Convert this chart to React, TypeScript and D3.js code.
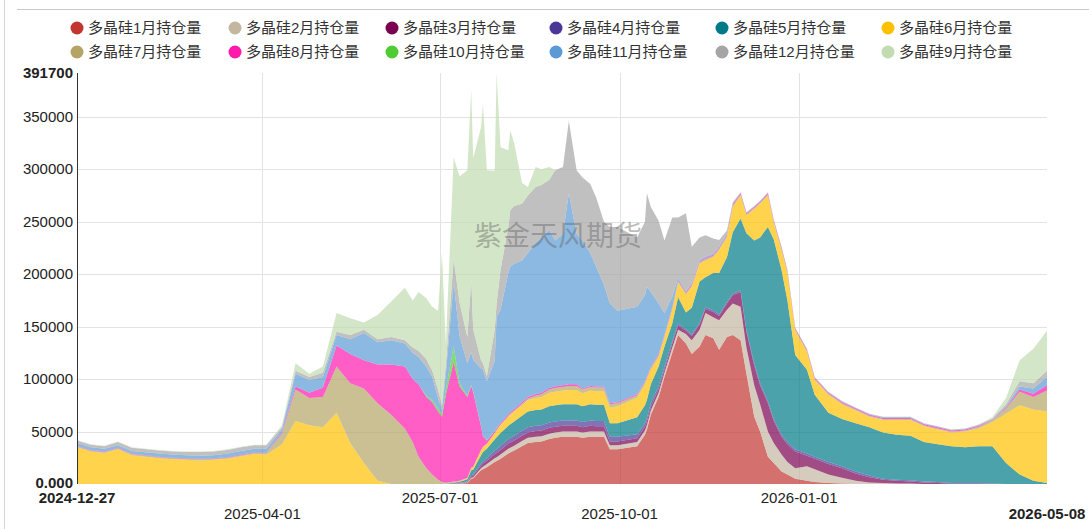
import React from "react";
import * as d3 from "d3";

const dates = [
  "2024-12-27","2025-01-03","2025-01-10","2025-01-17","2025-01-24","2025-02-07","2025-02-14","2025-02-21","2025-02-28","2025-03-07",
  "2025-03-14","2025-03-21","2025-03-28","2025-04-03","2025-04-11","2025-04-18","2025-04-25","2025-05-02","2025-05-09","2025-05-16",
  "2025-05-23","2025-05-30","2025-06-06","2025-06-13","2025-06-17","2025-06-20","2025-06-24","2025-06-27","2025-06-30","2025-07-02",
  "2025-07-04","2025-07-08","2025-07-11","2025-07-15","2025-07-17","2025-07-18","2025-07-22","2025-07-23","2025-07-25","2025-07-29",
  "2025-07-30","2025-08-01","2025-08-05","2025-08-06","2025-08-08","2025-08-12","2025-08-15","2025-08-19","2025-08-22","2025-08-26",
  "2025-08-29","2025-09-02","2025-09-05","2025-09-09","2025-09-12","2025-09-16","2025-09-19","2025-09-23","2025-09-26","2025-09-30",
  "2025-10-10","2025-10-14","2025-10-15","2025-10-17","2025-10-21","2025-10-24","2025-10-28","2025-10-31","2025-11-04","2025-11-07",
  "2025-11-11","2025-11-14","2025-11-18","2025-11-21","2025-11-25","2025-11-28","2025-12-02","2025-12-05","2025-12-09","2025-12-12",
  "2025-12-16","2025-12-19","2025-12-23","2025-12-26","2025-12-30","2026-01-05","2026-01-09","2026-01-16","2026-01-23","2026-01-30",
  "2026-02-06","2026-02-13","2026-02-20","2026-02-27","2026-03-06","2026-03-13","2026-03-20","2026-03-27","2026-04-03","2026-04-10",
  "2026-04-17","2026-04-24","2026-05-01","2026-05-08",
];

const jan = [
  0,0,0,0,0,0,0,0,0,0,
  0,0,0,0,0,0,0,0,0,0,
  0,0,0,0,0,0,0,0,0,0,
  0,500,500,1000,5000,5500,13000,14000,16000,21000,
  22000,24000,29000,30000,32000,36000,39000,40000,40500,43000,
  44000,45000,45000,45000,44000,45000,45000,45000,33000,33000,
  36000,47000,52000,66000,83000,102000,125000,142000,134000,124000,
  131000,142000,139000,128000,140000,142000,137000,105000,64000,50000,
  26000,20000,12000,9000,5000,3000,2000,1000,500,0,
  0,0,0,0,0,0,0,0,0,0,
  0,0,0,0,
];
const feb = [
  0,0,0,0,0,0,0,0,0,0,
  0,0,0,0,0,0,0,0,0,0,
  0,0,0,0,0,0,0,0,0,0,
  0,0,200,500,1000,1000,2000,2500,3000,3500,
  3500,4000,4500,4500,4500,5000,5000,5000,5000,5000,
  5000,5000,5000,5000,5000,5000,5000,5000,4000,4000,
  4000,4000,4000,4000,4000,4000,5000,5000,9000,13000,
  16000,21000,20000,28000,26000,30000,32000,25000,30000,26000,
  24000,19000,16000,12000,10000,14000,12000,8000,5500,3000,
  1500,1000,500,500,0,0,0,0,0,0,
  0,0,0,0,
];
const mar = [
  0,0,0,0,0,0,0,0,0,0,
  0,0,0,0,0,0,0,0,0,0,
  0,0,0,0,0,0,0,0,0,0,
  0,0,200,500,1500,1500,2500,3000,3000,4000,
  4000,4500,5000,5000,5000,5000,5000,5500,5500,5500,
  5500,5500,5500,5500,5000,5500,5000,5000,3500,3500,
  3500,3500,3500,3500,3500,3000,4000,4000,3000,4000,
  5000,4000,5000,4000,6000,8000,14000,15000,19000,18000,
  27000,21000,17000,17000,16000,10000,10000,10000,9000,7000,
  5000,3000,2500,2000,1500,1000,500,500,500,0,
  0,0,0,0,
];
const apr = [
  0,0,0,0,0,0,0,0,0,0,
  0,0,0,0,0,0,0,0,0,0,
  0,0,0,0,0,0,0,0,0,0,
  0,300,300,500,1000,1000,2000,2000,2500,3500,
  3500,4000,4500,4500,4500,5000,5000,5000,5000,5000,
  5000,5000,5000,5000,5000,5000,5000,5000,4500,4500,
  4000,3500,3500,3500,3000,3000,2000,2000,1500,1500,
  1500,1500,1500,1500,1500,1500,1500,1500,2000,2000,
  2000,2000,2000,2000,2000,2000,2000,2000,2000,2000,
  1500,1000,1000,1000,1000,1000,500,500,500,500,
  0,0,0,0,
];
const may = [
  0,0,0,0,0,0,0,0,0,0,
  0,0,0,0,0,0,0,0,0,0,
  0,0,0,0,0,0,0,0,0,0,
  300,500,1000,2000,4500,4500,8000,9000,9000,10500,
  11500,12000,12500,13000,13500,14000,15000,15000,15000,15500,
  15500,15500,15500,15500,15000,15500,15500,15500,13000,13000,
  16000,17000,17000,18000,18500,19000,17000,25000,16000,25500,
  39500,28500,35500,39500,42500,58500,68500,92500,117000,139000,
  166000,171000,157000,135000,90000,80000,59000,47000,45000,46000,
  46000,44000,43000,42500,37500,36000,35000,34000,35000,35500,
  20000,9000,3000,1000,
];
const jun = [
  35000,31000,29500,33000,27500,24500,23500,23000,22500,23000,
  24000,26500,28500,28000,38000,60000,56000,54000,68000,39000,
  20000,3000,0,0,0,0,0,0,0,0,
  0,0,300,1000,2000,2500,4500,4500,4500,5500,
  6500,7500,8500,9000,9500,10000,11000,11500,12000,13000,
  13000,13000,13500,13500,12500,13000,13000,13000,15000,16000,
  19000,20000,20000,14000,9000,9000,13000,14000,17000,20000,
  17000,16000,15000,22000,19000,24000,22000,17000,30000,32000,
  30000,16000,19000,26000,23000,17000,14000,17000,14000,12000,
  10000,12000,14000,15000,15000,14000,13000,15000,17000,23000,
  47000,66000,68000,68000,
];
const jul = [
  1000,1000,1000,1000,1000,1000,1000,1000,1000,1000,
  1000,1000,1000,1500,10000,30000,26000,29000,44000,57000,
  71000,74000,66000,53000,40000,26000,15000,9000,4000,2000,
  1000,1000,500,500,500,500,500,500,500,500,
  500,500,1000,1000,1000,1500,1500,2000,2500,3000,
  3500,3500,4000,4000,3500,3500,3500,3500,3000,3000,
  2000,2000,2000,2000,2000,1500,1500,1500,1500,1500,
  1500,1500,1500,1500,1500,1500,1000,1000,1000,1000,
  1000,1000,1000,1000,1000,1000,1000,1000,1000,1000,
  1000,1000,1000,1000,1000,1000,1000,1000,1500,2000,
  5000,13000,12000,20000,
];
const aug = [
  500,500,500,500,500,500,500,500,500,500,
  500,500,500,500,1000,3000,5000,9000,20000,28000,
  27000,37000,48000,59000,60000,69000,68000,69000,65000,62000,
  84000,114000,90000,77000,78000,71000,22500,10000,3000,1500,
  1500,1500,1500,1500,1500,1500,1500,1500,1500,1500,
  1500,1500,1500,1500,1000,1000,1000,1000,1000,1000,
  1000,1000,1000,1000,1000,1000,1000,1000,1000,1000,
  1000,1000,1000,1000,1000,1000,1000,1000,1000,1000,
  1000,1000,1000,1000,1000,1000,1000,1000,1000,1000,
  1000,1000,1000,1000,1000,1000,1000,1000,1000,500,
  1000,2000,3000,5000,
];
const oct = [
  0,0,0,0,0,0,0,0,0,0,
  0,0,0,0,0,0,0,0,0,0,
  0,0,0,0,0,0,1000,2000,3000,3000,
  5000,15000,3000,1000,1000,1000,500,500,500,500,
  500,0,0,0,0,0,0,0,0,0,
  0,0,0,0,0,0,0,0,0,0,
  0,0,0,0,0,0,0,0,0,0,
  0,0,0,0,0,0,0,0,0,0,
  0,0,0,0,0,0,0,0,0,0,
  0,0,0,0,0,0,0,0,0,0,
  0,0,0,0,
];
const nov = [
  2500,2500,2500,2500,2500,3000,3000,3000,3000,3000,
  3500,3500,3500,3500,3000,12000,12000,10000,10000,14000,
  26000,21000,23000,22000,25000,26000,28000,22000,10000,4000,
  15000,61000,45000,31000,31000,30000,54500,63000,56000,67000,
  105500,108000,134500,138500,138500,135000,137000,144500,148000,150500,
  139000,144000,182000,143000,141000,126500,114000,97000,95000,87000,
  83500,82000,85000,71000,48000,20500,10000,2000,1000,1000,
  1000,1000,1000,1000,1000,1000,500,500,500,500,
  500,500,500,500,500,500,500,500,500,500,
  500,500,500,500,500,500,500,500,500,500,
  1000,3000,5000,8000,
];
const dec = [
  2500,2500,2500,3000,3000,3000,3000,3000,3500,3500,
  3500,3500,3500,3500,2000,3000,3000,4000,3000,4000,
  3000,3000,3000,3000,5000,6000,7000,6000,8000,4000,
  8000,22000,32000,25000,69000,29000,8000,6000,5000,29000,
  13000,38000,44000,54000,55000,54000,55000,53000,50000,48000,
  67000,64000,69000,61000,60000,66000,66000,60000,73000,80000,
  66000,70000,89000,81000,79000,69000,75500,57500,74000,34500,
  21500,20500,14500,6000,3000,1000,500,500,500,500,
  500,500,500,500,500,500,500,500,500,500,
  500,500,500,500,500,500,500,500,500,500,
  2000,5000,5000,6000,
];
const sep = [
  500,500,500,500,500,500,500,500,500,500,
  500,500,500,500,2000,7000,3000,6000,18000,16000,
  7000,23000,34000,50000,45000,56000,58000,61000,75000,145000,
  20000,97000,120000,159000,181000,163000,222000,247000,196000,152000,
  219700,117000,73000,76000,60000,20000,8000,19000,15000,12000,
  0,0,0,0,0,0,0,0,0,0,
  0,0,0,0,0,0,0,0,0,0,
  0,0,0,0,0,0,0,0,0,0,
  0,0,0,0,0,0,0,0,0,0,
  0,0,0,0,0,0,0,0,500,1000,
  6000,20000,33000,38000,
];

// stack order (bottom to top) = legend order
const seriesNames = [
  "多晶硅1月持仓量","多晶硅2月持仓量","多晶硅3月持仓量","多晶硅4月持仓量","多晶硅5月持仓量","多晶硅6月持仓量",
  "多晶硅7月持仓量","多晶硅8月持仓量","多晶硅10月持仓量","多晶硅11月持仓量","多晶硅12月持仓量","多晶硅9月持仓量",
];
const seriesValues = [jan, feb, mar, apr, may, jun, jul, aug, oct, nov, dec, sep];
const seriesColors = [
  "#c23531","#c4b7a2","#7b0051","#4b3797","#007a87","#ffc000",
  "#b4a567","#ff1aae","#4fcc34","#5b9bd5","#a5a5a5","#c2dbb1",
];

const yTicks = [0, 50000, 100000, 150000, 200000, 250000, 300000, 350000, 391700];
const xTickLabels = ["2024-12-27","2025-04-01","2025-07-01","2025-10-01","2026-01-01","2026-05-08"];
const yMax = 391700;

const W = 1089, H = 529;
const plot = { left: 77, right: 1047, top: 73, bottom: 484 };

export default function App() {
  const parse = d3.timeParse("%Y-%m-%d");
  const keys = seriesNames.map((_, i) => "k" + i);
  const rows = dates.map((d, i) => {
    const r: any = { date: parse(d) };
    keys.forEach((k, j) => (r[k] = seriesValues[j][i]));
    return r;
  });
  const x = d3.scaleTime()
    .domain([parse(xTickLabels[0]) as Date, parse(xTickLabels[xTickLabels.length - 1]) as Date])
    .range([plot.left, plot.right]);
  const y = d3.scaleLinear().domain([0, yMax]).range([plot.bottom, plot.top]);
  const stacked = d3.stack<any>().keys(keys).order(d3.stackOrderNone).offset(d3.stackOffsetNone)(rows);
  const area = d3.area<any>()
    .x((d) => x(d.data.date))
    .y0((d) => y(d[0]))
    .y1((d) => y(d[1]))
    .curve(d3.curveLinear);

  const legendCols = [77, 235, 392, 556, 722, 888];
  const legendRows = [28, 52];
  const font = "Arial, 'Liberation Sans', sans-serif";
  const cjk = "Arial, 'Noto Sans CJK SC', sans-serif";

  return (
    <svg width={W} height={H} style={{ position: "fixed", left: 0, top: 0, background: "#fff" }}>
      <rect x={0} y={0} width={W} height={H} fill="#fff" />
      <line x1={4.5} x2={4.5} y1={0} y2={H} stroke="#d8d8d8" />
      <line x1={17} x2={W} y1={9.5} y2={9.5} stroke="#c8c8c8" />

      {seriesNames.map((name, i) => {
        const cx = legendCols[i % 6];
        const cy = legendRows[Math.floor(i / 6)];
        return (
          <g key={name}>
            <circle cx={cx} cy={cy} r={6.5} fill={seriesColors[i]} />
            <text x={cx + 11} y={cy} dy="0.35em" fontSize={15} fontFamily={cjk} fill="#333">{name}</text>
          </g>
        );
      })}

      {yTicks.filter((t) => t > 0 && t < yMax).map((t) => (
        <line key={"gy" + t} x1={plot.left} x2={plot.right} y1={Math.round(y(t)) + 0.5} y2={Math.round(y(t)) + 0.5} stroke="#e3e3e3" />
      ))}
      {xTickLabels.slice(1, -1).map((t) => {
        const xx = Math.round(x(parse(t) as Date)) + 0.5;
        return <line key={"gx" + t} x1={xx} x2={xx} y1={plot.top} y2={plot.bottom} stroke="#e3e3e3" />;
      })}

      {stacked.map((s, i) => (
        <path key={keys[i]} d={area(s) || ""} fill={seriesColors[i]} fillOpacity={0.7} stroke="none" />
      ))}

      <text x={558} y={236} dy="0.35em" textAnchor="middle" fontSize={28} fontFamily="'Noto Sans CJK SC', sans-serif" fill="#666" fillOpacity={0.45}>紫金天风期货</text>

      <line x1={plot.left + 0.5} x2={plot.left + 0.5} y1={plot.top} y2={plot.bottom} stroke="#333" />

      {yTicks.map((t, i) => (
        <text key={"ty" + t} x={73} y={i === 0 ? y(t) - 1 : y(t)} dy="0.35em" textAnchor="end" fontSize={15} fontFamily={font}
          fontWeight={i === 0 || i === yTicks.length - 1 ? "bold" : "normal"} fill="#222">
          {i === 0 ? "0.000" : String(t)}
        </text>
      ))}
      {xTickLabels.map((t, i) => {
        const xx = x(parse(t) as Date);
        const lower = i % 2 === 1;
        const edge = i === 0 || i === xTickLabels.length - 1;
        return (
          <text key={"tx" + t} x={xx} y={lower ? 514 : 498} dy="0.35em" textAnchor="middle" fontSize={15}
            fontFamily={font} fontWeight={edge ? "bold" : "normal"} fill="#222">{t}</text>
        );
      })}
    </svg>
  );
}
